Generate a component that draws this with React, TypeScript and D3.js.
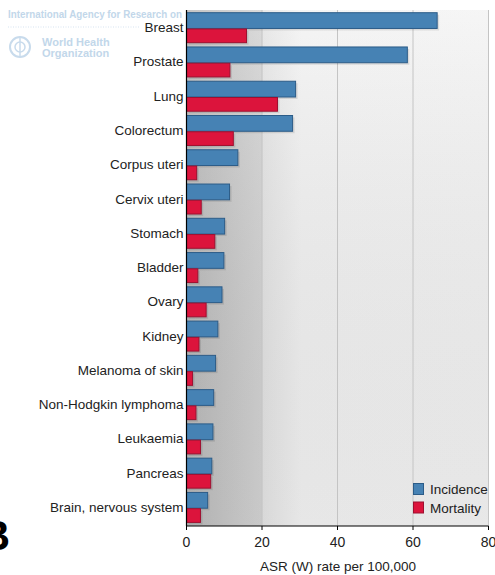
import React from "react";
import * as d3 from "d3";

const categories = [
  "Breast", "Prostate", "Lung", "Colorectum", "Corpus uteri", "Cervix uteri",
  "Stomach", "Bladder", "Ovary", "Kidney", "Melanoma of skin",
  "Non-Hodgkin lymphoma", "Leukaemia", "Pancreas", "Brain, nervous system",
];
const incidence = [66.4, 58.5, 28.9, 28.1, 13.6, 11.4, 10.1, 9.9, 9.4, 8.3, 7.7, 7.2, 7.0, 6.7, 5.6];
const mortality = [15.9, 11.5, 24.1, 12.4, 2.7, 3.9, 7.5, 3.0, 5.2, 3.3, 1.6, 2.5, 3.7, 6.4, 3.7];
const xTicks = [0, 20, 40, 60, 80];
const seriesNames = ["Incidence", "Mortality"];

export default function App() {
  const W = 495, H = 575;
  const left = 186.5, right = 488.5, top = 10, bottom = 526;
  const x = d3.scaleLinear().domain([0, 80]).range([left, right]);
  const y = d3.scaleBand<string>().domain(categories).range([top, bottom - 2]);
  const bw = y.bandwidth();
  const font = "'Liberation Sans', Arial, sans-serif";
  const blue = "#4682b4", blueStroke = "#2c5c88";
  const red = "#dc143c", redStroke = "#9e1030";
  const barH1 = bw * 0.46, barH2 = bw * 0.4;
  return (
    <svg width={W} height={H} style={{ position: "absolute", left: 0, top: 0 }}>
      <defs>
        <linearGradient id="bg" x1={left} x2={right} y1="0" y2="0" gradientUnits="userSpaceOnUse">
          <stop offset="0" stopColor="#bababa" />
          <stop offset="0.25" stopColor="#d4d4d4" />
          <stop offset="0.252" stopColor="#e4e4e4" />
          <stop offset="0.38" stopColor="#f3f3f3" />
          <stop offset="1" stopColor="#f4f4f4" />
        </linearGradient>
        <linearGradient id="bgv" x1="0" x2="0" y1={top} y2={bottom} gradientUnits="userSpaceOnUse">
          <stop offset="0" stopColor="#fff" stopOpacity="0.15" />
          <stop offset="1" stopColor="#000" stopOpacity="0.05" />
        </linearGradient>
      </defs>
      <rect x={0} y={0} width={W} height={H} fill="#fff" />
      {/* logo */}
      <g fill="#c2d7ea" fontFamily={font}>
        <text x={8} y={18} fontSize={10} fontWeight="bold" textLength={174} lengthAdjust="spacingAndGlyphs">International Agency for Research on</text>
        <line x1={8} x2={140} y1={27} y2={27} stroke="#d5e3f0" strokeDasharray="1,1.5" />
        <circle cx={20} cy={47} r={10} fill="none" stroke="#c8dbec" strokeWidth={2} />
        <circle cx={20} cy={47} r={5} fill="none" stroke="#c8dbec" strokeWidth={1.5} />
        <line x1={20} x2={20} y1={38} y2={57} stroke="#c8dbec" strokeWidth={1.5} />
        <text x={42} y={46} fontSize={11} fontWeight="bold">World Health</text>
        <text x={42} y={57} fontSize={11} fontWeight="bold">Organization</text>
      </g>
      {/* plot background */}
      <rect x={left} y={top} width={right - left} height={bottom - top} fill="url(#bg)" />
      <rect x={left} y={top} width={right - left} height={bottom - top} fill="url(#bgv)" />
      {xTicks.slice(1).map((t) => (
        <line key={t} x1={x(t)} x2={x(t)} y1={top} y2={bottom} stroke="#c4c4c4" strokeWidth={1} />
      ))}
      {/* bars */}
      {categories.map((c, i) => {
        const y0 = (y(c) as number) + 2.7;
        const y1 = y0 + barH1 + 0.5;
        return (
          <g key={c}>
            <rect x={left + 2} y={y0 + 2} width={x(incidence[i]) - left} height={barH1} fill="#000" opacity={0.1} />
            <rect x={left + 2} y={y1 + 2} width={x(mortality[i]) - left} height={barH2} fill="#000" opacity={0.1} />
            <rect x={left} y={y0} width={x(incidence[i]) - left} height={barH1} fill={blue} stroke={blueStroke} strokeWidth={1} />
            <rect x={left} y={y1} width={x(mortality[i]) - left} height={barH2} fill={red} stroke={redStroke} strokeWidth={1} />
            <text x={left - 3} y={(y(c) as number) + bw / 2 + 1.5} textAnchor="end" dominantBaseline="middle"
              fontFamily={font} fontSize={13.5} fill="#222">{c}</text>
          </g>
        );
      })}
      {/* axes */}
      <line x1={left} x2={left} y1={top} y2={bottom} stroke="#000" strokeWidth={1.2} />
      <line x1={left} x2={right} y1={bottom} y2={bottom} stroke="#000" strokeWidth={1.2} />
      {xTicks.map((t) => (
        <g key={t}>
          <line x1={x(t)} x2={x(t)} y1={bottom} y2={bottom + 4} stroke="#000" />
          <text x={x(t)} y={547} textAnchor="middle" fontFamily={font} fontSize={14} fill="#222">{t}</text>
        </g>
      ))}
      <text x={338} y={571} textAnchor="middle" fontFamily={font} fontSize={13.5} fill="#222">ASR (W) rate per 100,000</text>
      {/* legend */}
      {seriesNames.map((s, i) => (
        <g key={s}>
          <rect x={413.5} y={483.5 + i * 18.5} width={10} height={11} fill={i === 0 ? blue : red} stroke={i === 0 ? blueStroke : redStroke} />
          <text x={430} y={494 + i * 18.5} fontFamily={font} fontSize={13.5} fill="#222">{s}</text>
        </g>
      ))}
      <text x={10} y={550} textAnchor="end" fontFamily={font} fontSize={42} fontWeight="bold" fill="#000">B</text>
    </svg>
  );
}
